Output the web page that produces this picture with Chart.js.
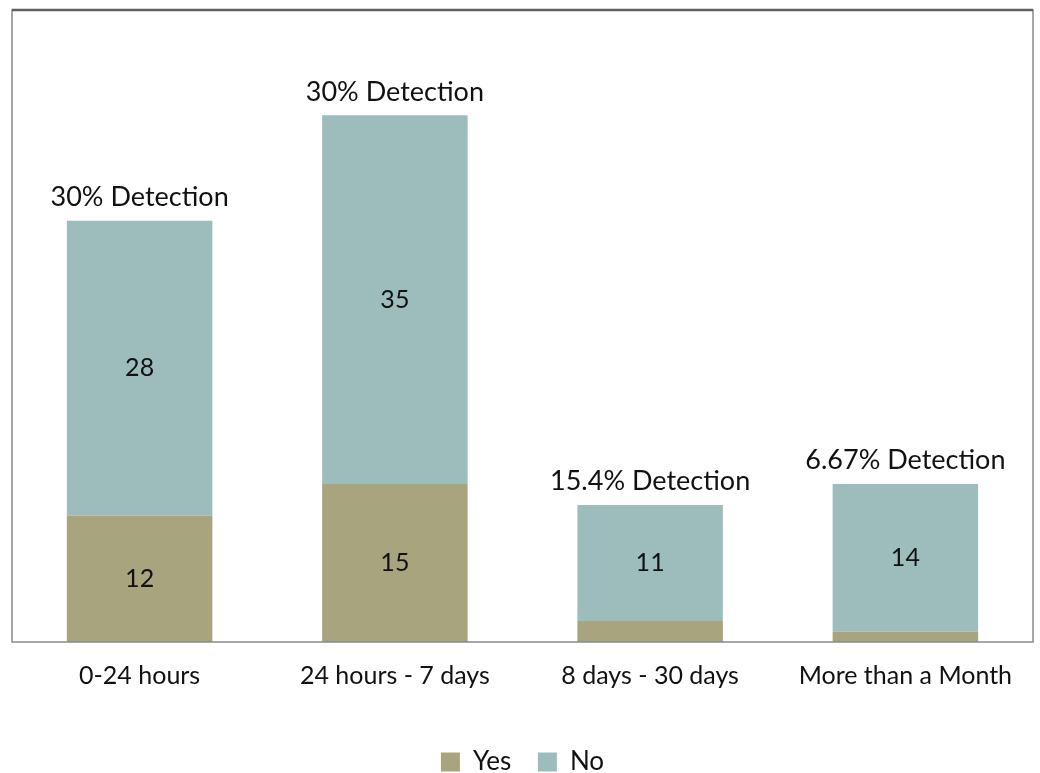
<!DOCTYPE html>
<html><head><meta charset="utf-8">
<script src="https://cdn.jsdelivr.net/npm/chart.js@4"></script>
<style>html,body{margin:0;padding:0;background:#fff}#wrap{width:1040px;height:773px}</style>
</head><body><div id="wrap"><canvas id="c"></canvas></div>
<script>
const categories = ["0-24 hours", "24 hours - 7 days", "8 days - 30 days", "More than a Month"];
const yesValues = [12, 15, 2, 1];
const noValues = [28, 35, 11, 14];
const detectionLabels = ["30% Detection", "30% Detection", "15.4% Detection", "6.67% Detection"];
const FONT = "Lato, 'Open Sans', sans-serif";

const labelPlugin = {
  id: 'labels',
  afterDatasetsDraw(chart) {
    const ctx = chart.ctx;
    const a = chart.chartArea;
    ctx.save();
    ctx.strokeStyle = '#8a8a8a';
    ctx.lineWidth = 1.5;
    ctx.strokeRect(a.left, a.top, a.right - a.left, a.bottom - a.top);
    ctx.strokeStyle = '#606060';
    ctx.lineWidth = 2.5;
    ctx.beginPath(); ctx.moveTo(a.left, a.top); ctx.lineTo(a.right, a.top); ctx.stroke();
    ctx.fillStyle = '#111';
    ctx.textAlign = 'center';
    ctx.textBaseline = 'middle';
    ctx.font = "25px " + FONT;
    chart.data.datasets.forEach((ds, di) => {
      const meta = chart.getDatasetMeta(di);
      meta.data.forEach((el, i) => {
        const v = ds.data[i];
        const h = Math.abs(el.base - el.y);
        if (h > 40) ctx.fillText(String(v), el.x, (el.y + el.base) / 2);
      });
    });
    const topMeta = chart.getDatasetMeta(1);
    ctx.font = "27px " + FONT;
    ctx.textBaseline = 'bottom';
    topMeta.data.forEach((el, i) => {
      ctx.fillText(detectionLabels[i], el.x, el.y - 10);
    });
    ctx.restore();
  }
};

new Chart(document.getElementById('c'), {
  type: 'bar',
  data: {
    labels: categories,
    datasets: [
      { label: 'Yes', data: yesValues, backgroundColor: '#A8A47E', borderWidth: 0 },
      { label: 'No', data: noValues, backgroundColor: '#9DBDBC', borderWidth: 0 }
    ]
  },
  options: {
    responsive: true,
    maintainAspectRatio: false,
    animation: false,
    layout: { padding: { left: 12, right: 7, top: 10, bottom: -12 } },
    plugins: {
      legend: {
        position: 'bottom',
        labels: {
          font: { size: 26, family: FONT }, color: '#111', boxWidth: 19, boxHeight: 19, padding: 0,
          generateLabels(chart) {
            const items = Chart.defaults.plugins.legend.labels.generateLabels(chart);
            items.forEach((it, i) => { if (i < items.length - 1) it.text = it.text + '    '; });
            return items;
          }
        }
      },
      tooltip: { enabled: false }
    },
    scales: {
      x: {
        stacked: true,
        grid: { display: false, drawTicks: false },
        border: { display: false },
        ticks: { font: { size: 25, family: FONT }, color: '#111', padding: 19 },
        afterFit(scale) { scale.height = 107; }
      },
      y: {
        stacked: true, display: false, min: 0, max: 60
      }
    },
    datasets: { bar: { categoryPercentage: 0.57, barPercentage: 1 } }
  },
  plugins: [labelPlugin]
});
</script></body></html>
